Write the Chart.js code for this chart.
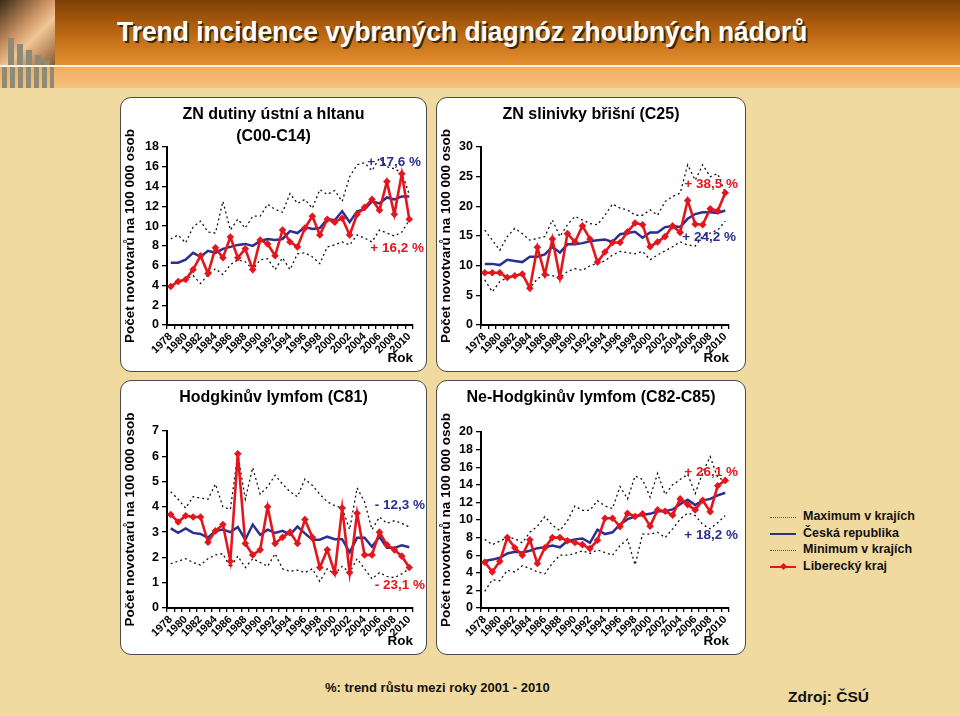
<!DOCTYPE html>
<html lang="cs">
<head>
<meta charset="utf-8">
<title>Trend incidence vybraných diagnóz zhoubných nádorů</title>
<script src="https://cdn.jsdelivr.net/npm/chart.js@4.4.1/dist/chart.umd.min.js"></script>
<style>
  body {
    margin: 0;
    width: 960px;
    height: 716px;
    overflow: hidden;
    position: relative;
    background: #f0da9f;
    font-family: "Liberation Sans", Arial, sans-serif;
  }
  .header {
    position: absolute; left: 0; top: 0; width: 960px; height: 65px;
    background: linear-gradient(to bottom, #7e3f06 0%, #b4620f 45%, #e5902f 100%);
  }
  .header-line { position: absolute; left: 0; top: 65px; width: 960px; height: 2px; background: #fff3df; }
  .band {
    position: absolute; left: 0; top: 67px; width: 960px; height: 21px;
    background: linear-gradient(to bottom, #f1ad5e, #f5c27d);
  }
  .photo {
    position: absolute; left: 0; top: 0; width: 55px; height: 65px;
    background: linear-gradient(135deg, #3b2a18 0%, #c89060 40%, #f2c594 60%, #8a5a30 100%);
  }
  .bar { position: absolute; background: #8d8a78; }
  .title {
    position: absolute; left: 117px; top: 16px;
    color: #fff; font-weight: bold; font-size: 28px;
    font-family: "Liberation Sans", Arial, sans-serif;
    text-shadow: 2px 2px 0 #3b2608;
    white-space: nowrap;
    transform: scaleX(0.942);
    transform-origin: left top;
  }
  .panel {
    position: absolute; box-sizing: border-box;
    background: #fff; border: 1.5px solid #4a4a4a; border-radius: 11px;
  }
  canvas.chart { position: absolute; }
  .legend { position: absolute; left: 768px; top: 509px; }
  .legend .row { position: relative; height: 16.5px; font-size: 12.5px; font-weight: bold; color: #111; white-space: nowrap; }
  .legend .row span { position: absolute; left: 35px; top: 0; }
  .legend .sample { position: absolute; left: 2px; top: 8px; width: 26px; }
  .dot { border-top: 1.2px dotted #555; }
  .solid { border-top: 2.5px solid #2b2f8e; top: 7px !important; }
  .red { border-top: 2.5px solid #e3161d; top: 7px !important; }
  .diamond { position: absolute; left: 11px; top: -4px; width: 5px; height: 5px; background: #e3161d; transform: rotate(45deg); }
  .note { position: absolute; font-weight: bold; color: #111; white-space: nowrap; }
</style>
</head>
<body>
<div class="header"></div>
<div class="header-line"></div>
<div class="band"></div>
<div class="photo"></div>
<div class="bar" style="left:8px;top:38px;width:6px;height:27px"></div>
<div class="bar" style="left:17px;top:44px;width:6px;height:21px"></div>
<div class="bar" style="left:26px;top:50px;width:6px;height:15px"></div>
<div class="bar" style="left:35px;top:55px;width:6px;height:10px"></div>
<div class="bar" style="left:44px;top:60px;width:6px;height:5px"></div>
<div class="bar" style="left:2px;top:67px;width:5px;height:21px"></div>
<div class="bar" style="left:10px;top:67px;width:5px;height:21px"></div>
<div class="bar" style="left:18px;top:67px;width:5px;height:21px"></div>
<div class="bar" style="left:26px;top:67px;width:5px;height:21px"></div>
<div class="bar" style="left:34px;top:67px;width:5px;height:21px"></div>
<div class="bar" style="left:42px;top:67px;width:5px;height:21px"></div>
<div class="bar" style="left:50px;top:67px;width:4px;height:21px"></div>
<div class="title">Trend incidence vybraných diagnóz zhoubných nádorů</div>

<div class="panel" style="left:120px;top:97px;width:307px;height:275px"></div>
<div class="panel" style="left:436px;top:97px;width:310px;height:275px"></div>
<div class="panel" style="left:120px;top:380px;width:307px;height:275px"></div>
<div class="panel" style="left:436px;top:380px;width:310px;height:275px"></div>

<canvas id="oral" class="chart" width="307" height="275" style="left:120px;top:97px"></canvas>
<canvas id="pancreas" class="chart" width="310" height="275" style="left:436px;top:97px"></canvas>
<canvas id="hodgkin" class="chart" width="307" height="275" style="left:120px;top:380px"></canvas>
<canvas id="nonhodgkin" class="chart" width="310" height="275" style="left:436px;top:380px"></canvas>

<div class="legend">
  <div class="row"><div class="sample dot"></div><span>Maximum v krajích</span></div>
  <div class="row"><div class="sample solid"></div><span>Česká republika</span></div>
  <div class="row"><div class="sample dot"></div><span>Minimum v krajích</span></div>
  <div class="row"><div class="sample red"><div class="diamond"></div></div><span>Liberecký kraj</span></div>
</div>

<div class="note" style="left:325px;top:680px;font-size:13px">%: trend růstu mezi roky 2001 - 2010</div>
<div class="note" style="left:788px;top:688px;font-size:15.5px">Zdroj: ČSÚ</div>

<script>
const FONT = '"Liberation Sans", Arial, sans-serif';
const RED = '#e3161d';
const BLUE = '#2b2f8e';

const years = ['1978', '1979', '1980', '1981', '1982', '1983', '1984', '1985', '1986', '1987', '1988',
  '1989', '1990', '1991', '1992', '1993', '1994', '1995', '1996', '1997', '1998', '1999', '2000',
  '2001', '2002', '2003', '2004', '2005', '2006', '2007', '2008', '2009', '2010'];

// ZN dutiny ústní a hltanu (C00-C14)
const oralMax = [8.7, 9.1, 8.3, 9.9, 10.5, 9.4, 9.3, 12.5, 9.6, 10.7, 9.8, 11.0, 11.0, 12.2, 11.7, 11.4, 13.3,
  12.3, 12.7, 11.8, 13.7, 13.2, 13.6, 12.5, 15.0, 16.2, 16.4, 15.6, 16.9, 16.0, 15.8, 15.4, 13.2];
const oralCz = [6.3, 6.3, 6.6, 7.3, 6.9, 7.5, 7.3, 7.7, 7.9, 8.1, 8.2, 8.0, 8.5, 8.7, 8.6, 8.7, 9.5,
  9.3, 9.9, 9.7, 9.8, 10.7, 10.6, 11.5, 10.4, 11.5, 11.7, 12.5, 12.3, 12.9, 12.7, 13.0, 13.0];
const oralMin = [3.9, 4.4, 4.6, 5.0, 4.2, 5.1, 5.7, 5.1, 6.1, 6.6, 6.4, 5.6, 6.6, 6.7, 5.6, 6.8, 5.6,
  7.2, 7.3, 6.9, 6.2, 7.9, 8.1, 8.4, 8.1, 9.1, 8.8, 8.4, 9.6, 9.3, 9.0, 9.4, 10.6];
const oralLib = [3.9, 4.4, 4.6, 5.6, 7.0, 5.2, 7.8, 6.8, 8.9, 6.8, 7.7, 5.6, 8.6, 8.2, 7.0, 9.6, 8.4,
  7.9, 9.8, 11.0, 9.1, 10.7, 10.4, 10.8, 9.1, 11.2, 11.9, 12.7, 11.6, 14.5, 11.2, 15.3, 10.7];

// ZN slinivky břišní (C25)
const pancMax = [16.0, 14.3, 12.6, 14.9, 16.3, 15.4, 14.3, 14.6, 14.9, 17.7, 14.9, 16.9, 18.3, 17.7, 17.1, 16.9, 18.5,
  20.4, 19.7, 19.4, 18.5, 18.5, 19.4, 18.5, 20.8, 21.7, 22.2, 27.0, 24.4, 27.0, 25.0, 25.5, 22.3];
const pancCz = [10.3, 10.3, 10.1, 11.0, 10.8, 10.6, 11.5, 11.5, 11.9, 13.2, 12.2, 13.6, 13.6, 13.8, 14.1, 14.3, 14.4,
  14.0, 15.3, 15.5, 15.7, 14.7, 15.6, 15.6, 16.5, 16.7, 16.5, 17.9, 18.7, 19.0, 19.0, 18.9, 19.3];
const pancMin = [7.6, 5.6, 7.3, 8.0, 8.3, 8.6, 6.2, 7.8, 8.5, 8.3, 8.0, 9.0, 9.5, 9.2, 10.0, 10.4, 10.8,
  11.8, 12.4, 12.2, 12.0, 12.4, 11.0, 11.8, 12.5, 13.2, 14.0, 13.5, 13.3, 15.0, 15.5, 16.0, 17.5];
const pancLib = [8.8, 8.8, 8.8, 8.0, 8.3, 8.6, 6.2, 13.1, 8.5, 14.5, 8.0, 15.4, 14.0, 16.7, 14.5, 10.6, 12.3,
  13.9, 13.9, 15.7, 17.2, 16.9, 13.2, 14.0, 14.9, 16.7, 15.6, 21.0, 17.0, 16.9, 19.6, 19.2, 22.3];

// Hodgkinův lymfom (C81)
const hodgMax = [4.6, 4.3, 3.95, 4.4, 4.35, 4.3, 4.9, 4.0, 3.9, 6.1, 4.3, 5.55, 4.5, 4.8, 5.25, 4.9, 4.6,
  4.4, 5.1, 4.85, 4.5, 4.2, 4.05, 3.95, 3.1, 4.75, 4.2, 3.1, 3.6, 3.35, 3.45, 3.35, 3.2];
const hodgCz = [3.15, 2.97, 3.15, 2.97, 2.93, 2.78, 3.05, 3.1, 3.0, 3.2, 2.7, 3.3, 2.9, 3.1, 2.97, 3.05, 2.9,
  3.22, 2.95, 2.7, 2.7, 2.82, 2.72, 2.72, 2.2, 2.78, 2.78, 2.42, 2.82, 2.38, 2.38, 2.48, 2.4];
const hodgMin = [1.75, 1.85, 1.95, 1.8, 1.7, 1.95, 2.1, 2.15, 1.6, 2.05, 1.6, 1.95, 1.8, 1.65, 2.15, 1.55, 1.45,
  1.5, 1.4, 1.55, 1.05, 1.55, 1.34, 1.65, 1.4, 1.95, 1.55, 1.15, 1.4, 1.25, 1.2, 1.35, 1.55];
const hodgLib = [3.7, 3.4, 3.65, 3.6, 3.6, 2.6, 3.05, 3.3, 1.85, 6.1, 2.55, 2.1, 2.3, 4.0, 2.55, 2.8, 3.0,
  2.55, 3.5, 2.8, 1.6, 2.3, 1.4, 3.95, 1.4, 3.75, 2.1, 2.1, 3.0, 2.5, 2.3, 2.05, 1.6];

// Ne-Hodgkinův lymfom (C82-C85)
const nhlMax = [7.8, 7.2, 7.6, 8.0, 7.9, 7.4, 8.6, 9.3, 10.4, 9.4, 8.8, 9.9, 11.6, 11.1, 11.1, 12.2, 11.6,
  11.3, 13.8, 12.4, 15.0, 14.6, 12.6, 15.3, 12.9, 14.0, 14.6, 15.2, 13.0, 15.4, 17.2, 14.8, 14.5];
const nhlCz = [5.35, 5.5, 5.7, 6.2, 6.4, 6.3, 6.5, 6.8, 6.9, 7.1, 6.9, 7.6, 7.8, 7.9, 7.4, 8.9, 8.4,
  8.6, 9.5, 10.1, 10.4, 10.6, 10.7, 11.0, 11.0, 11.2, 11.8, 12.3, 11.7, 12.2, 12.4, 12.8, 13.1];
const nhlMin = [1.9, 3.2, 3.1, 4.3, 4.1, 4.8, 4.5, 4.1, 3.9, 5.1, 6.0, 6.0, 6.2, 6.5, 6.2, 6.6, 6.3,
  6.0, 7.1, 7.8, 4.9, 8.4, 8.4, 8.6, 8.0, 9.0, 10.1, 10.8, 10.5, 9.5, 9.0, 9.7, 10.5];
const nhlLib = [5.2, 4.1, 5.3, 8.0, 6.85, 6.0, 7.75, 5.05, 6.85, 8.0, 8.0, 7.65, 7.45, 7.2, 6.75, 7.7, 10.2,
  10.2, 9.25, 10.75, 10.4, 10.7, 9.3, 11.15, 11.0, 10.55, 12.4, 11.75, 11.15, 12.25, 10.95, 13.9, 14.5];

Chart.defaults.font.family = FONT;
Chart.defaults.color = '#000';

// panel heading, centred on the whole panel (not only the plot)
const panelTitle = {
  id: 'panelTitle',
  afterDraw(chart, args, opts) {
    const { ctx } = chart;
    ctx.save();
    ctx.font = 'bold 16px ' + FONT;
    ctx.fillStyle = '#000';
    ctx.textAlign = 'center';
    ctx.textBaseline = 'middle';
    opts.lines.forEach((line, i) => {
      ctx.fillText(line, chart.width / 2, 18 + i * 22);
    });
    ctx.restore();
  },
};

// trend percentages written beside the lines
const trendLabels = {
  id: 'trendLabels',
  afterDatasetsDraw(chart, args, opts) {
    const { ctx, chartArea, scales } = chart;
    ctx.save();
    ctx.font = 'bold 13.5px ' + FONT;
    ctx.textAlign = 'right';
    ctx.textBaseline = 'middle';
    (opts.items || []).forEach((item) => {
      ctx.fillStyle = item.color;
      ctx.fillText(item.text, chartArea.right + item.dx, scales.y.getPixelForValue(item.value));
    });
    ctx.restore();
  },
};

function drawPanel(id, cfg) {
  const canvas = document.getElementById(id);
  new Chart(canvas, {
    type: 'line',
    data: {
      labels: years,
      datasets: [
        {
          label: 'Liberecký kraj',
          data: cfg.lib,
          borderColor: RED,
          backgroundColor: RED,
          borderWidth: 2.6,
          pointStyle: 'rectRot',
          pointRadius: 3.8,
          pointBorderWidth: 0,
        },
        {
          label: 'Česká republika',
          data: cfg.cz,
          borderColor: BLUE,
          borderWidth: 2.5,
          pointRadius: 0,
        },
        {
          label: 'Maximum v krajích',
          data: cfg.max,
          borderColor: '#111',
          borderWidth: 1.3,
          borderDash: [2, 3],
          pointRadius: 0,
        },
        {
          label: 'Minimum v krajích',
          data: cfg.min,
          borderColor: '#111',
          borderWidth: 1.3,
          borderDash: [2, 3],
          pointRadius: 0,
        },
      ],
    },
    options: {
      responsive: false,
      animation: false,
      layout: { padding: { left: 0, right: cfg.padRight, top: cfg.plotTop, bottom: 0 } },
      plugins: {
        legend: { display: false },
        tooltip: { enabled: false },
        title: { display: false },
        panelTitle: { lines: cfg.title },
        trendLabels: { items: cfg.trends },
      },
      scales: {
        x: {
          offset: true,
          grid: { drawOnChartArea: false, offset: true, tickLength: 4, color: '#000', lineWidth: 1.3 },
          border: { color: '#000', width: 2 },
          ticks: {
            autoSkip: false,
            minRotation: 45,
            maxRotation: 45,
            padding: 1,
            font: { size: 11, weight: 'bold' },
            callback: (value, index) => (index % 2 === 0 ? years[index] : ''),
          },
          title: {
            display: true,
            text: 'Rok',
            align: 'end',
            font: { size: 13.5, weight: 'bold' },
            padding: { top: 0, bottom: 6 },
          },
          afterFit: (scale) => { scale.height = 47; },
        },
        y: {
          min: 0,
          max: cfg.max_y,
          grid: { drawOnChartArea: false, tickLength: 5, color: '#000', lineWidth: 1.3 },
          border: { color: '#000', width: 2 },
          ticks: { stepSize: cfg.step, autoSkip: false, padding: 3, font: { size: 12.5, weight: 'bold' } },
          title: {
            display: true,
            text: 'Počet novotvarů na 100 000 osob',
            font: { size: 13.5, weight: 'bold' },
            padding: { top: 2, bottom: 0 },
          },
          afterFit: (scale) => { scale.width = cfg.axisWidth; },
        },
      },
    },
    plugins: [panelTitle, trendLabels],
  });
}

drawPanel('oral', {
  title: ['ZN dutiny ústní a hltanu', '(C00-C14)'], plotTop: 50,
  lib: oralLib, cz: oralCz, max: oralMax, min: oralMin,
  max_y: 18, step: 2, axisWidth: 47, padRight: 14,
  trends: [
    { text: '+ 17,6 %', color: BLUE, value: 16.5, dx: 8 },
    { text: '+ 16,2 %', color: RED, value: 7.8, dx: 11 },
  ],
});

drawPanel('pancreas', {
  title: ['ZN slinivky břišní (C25)'], plotTop: 50,
  lib: pancLib, cz: pancCz, max: pancMax, min: pancMin,
  max_y: 30, step: 5, axisWidth: 45, padRight: 17,
  trends: [
    { text: '+ 38,5 %', color: RED, value: 23.8, dx: 9 },
    { text: '+ 24,2 %', color: BLUE, value: 14.8, dx: 7 },
  ],
});

drawPanel('hodgkin', {
  title: ['Hodgkinův lymfom (C81)'], plotTop: 51,
  lib: hodgLib, cz: hodgCz, max: hodgMax, min: hodgMin,
  max_y: 7, step: 1, axisWidth: 47, padRight: 14,
  trends: [
    { text: '- 12,3 %', color: BLUE, value: 4.05, dx: 12 },
    { text: '- 23,1 %', color: RED, value: 0.9, dx: 12 },
  ],
});

drawPanel('nonhodgkin', {
  title: ['Ne-Hodgkinův lymfom (C82-C85)'], plotTop: 52,
  lib: nhlLib, cz: nhlCz, max: nhlMax, min: nhlMin,
  max_y: 20, step: 2, axisWidth: 45, padRight: 17,
  trends: [
    { text: '+ 26,1 %', color: RED, value: 15.4, dx: 9 },
    { text: '+ 18,2 %', color: BLUE, value: 8.3, dx: 9 },
  ],
});
</script>
</body>
</html>
